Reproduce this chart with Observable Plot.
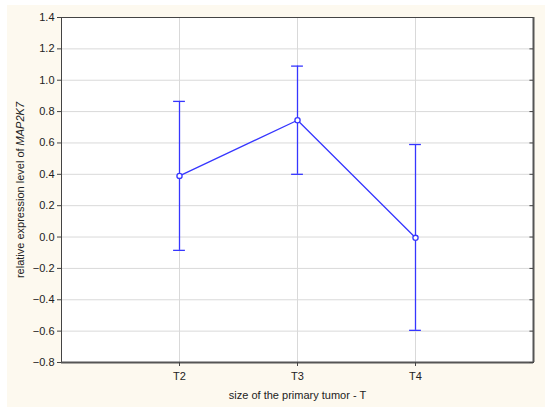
<!DOCTYPE html>
<html>
<head>
<meta charset="utf-8">
<script src="https://cdn.jsdelivr.net/npm/d3@7"></script>
<script src="https://cdn.jsdelivr.net/npm/@observablehq/plot@0.6"></script>
<style>
  html, body { margin: 0; padding: 0; background: #ffffff; }
  #wrap { position: relative; width: 550px; height: 413px; overflow: hidden; }
  #bg { position: absolute; left: 7px; top: 5px; width: 538px; height: 402px; background: #fdf9ef; }
  #chart { position: absolute; left: 0; top: 0; }
</style>
</head>
<body>
<div id="wrap"><div id="bg"></div><div id="chart"></div></div>
<script>
// Data
const categories = ["T2", "T3", "T4"];
const means = [0.39, 0.745, -0.005];
const upper = [0.865, 1.09, 0.59];
const lower = [-0.085, 0.40, -0.595];
const yTicks = [-0.8, -0.6, -0.4, -0.2, 0, 0.2, 0.4, 0.6, 0.8, 1.0, 1.2, 1.4];

const rows = categories.map((c, i) => ({cat: c, pos: i + 1, mean: means[i], hi: upper[i], lo: lower[i]}));
const blue = "#3636ff";
const capHalf = 0.05;

const plot = Plot.plot({
  width: 550,
  height: 413,
  marginLeft: 61,
  marginRight: 17,
  marginTop: 17,
  marginBottom: 51,
  style: {background: "transparent", fontFamily: "'Liberation Sans', Arial, sans-serif", fontSize: "11px", color: "#222"},
  x: {domain: [0, categories.length + 1]},
  y: {domain: [-0.8, 1.4]},
  marks: [
    Plot.frame({fill: "white", stroke: null}),
    Plot.gridY(yTicks, {stroke: "#d9d9d9", strokeOpacity: 1}),
    Plot.gridX(rows.map(d => d.pos), {stroke: "#d9d9d9", strokeOpacity: 1}),
    Plot.frame({stroke: "#444", strokeWidth: 1}),
    Plot.ruleX([categories.length + 1], {stroke: "#555", strokeWidth: 2}),
    Plot.ruleY([-0.8], {stroke: "#555", strokeWidth: 2}),
    Plot.axisY(yTicks, {anchor: "left", tickSize: 4, tickPadding: 3, tickFormat: d3.format(".1f"), label: null, stroke: "#444", fill: "#222"}),
    Plot.ruleY(yTicks, {y: d => d, x1: categories.length + 1 - 0.03, x2: categories.length + 1, stroke: "#444"}),
    Plot.axisX(rows.map(d => d.pos), {anchor: "bottom", tickSize: 4, tickPadding: 6, tickFormat: p => categories[p - 1], label: "size of the primary tumor - T", labelAnchor: "center", labelArrow: "none", labelOffset: 36, stroke: "#444", fill: "#222"}),
    Plot.ruleX(rows, {x: "pos", y1: "lo", y2: "hi", stroke: blue, strokeWidth: 1.3}),
    Plot.ruleY(rows, {y: "hi", x1: d => d.pos - capHalf, x2: d => d.pos + capHalf, stroke: blue, strokeWidth: 1.3}),
    Plot.ruleY(rows, {y: "lo", x1: d => d.pos - capHalf, x2: d => d.pos + capHalf, stroke: blue, strokeWidth: 1.3}),
    Plot.line(rows, {x: "pos", y: "mean", stroke: blue, strokeWidth: 1.3}),
    Plot.dot(rows, {x: "pos", y: "mean", r: 2.6, stroke: blue, fill: "white", strokeWidth: 1.3})
  ]
});

// Y-axis title with italic gene name
const svg = d3.select(plot);
const t = svg.append("text")
  .attr("transform", "translate(21,190) rotate(-90)")
  .attr("text-anchor", "middle")
  .attr("dominant-baseline", "middle")
  .attr("fill", "#222")
  .style("font-family", "'Liberation Sans', Arial, sans-serif")
  .style("font-size", "11px");
t.append("tspan").text("relative expression level of ");
t.append("tspan").style("font-style", "italic").text("MAP2K7");

document.getElementById("chart").appendChild(plot);
</script>
</body>
</html>
